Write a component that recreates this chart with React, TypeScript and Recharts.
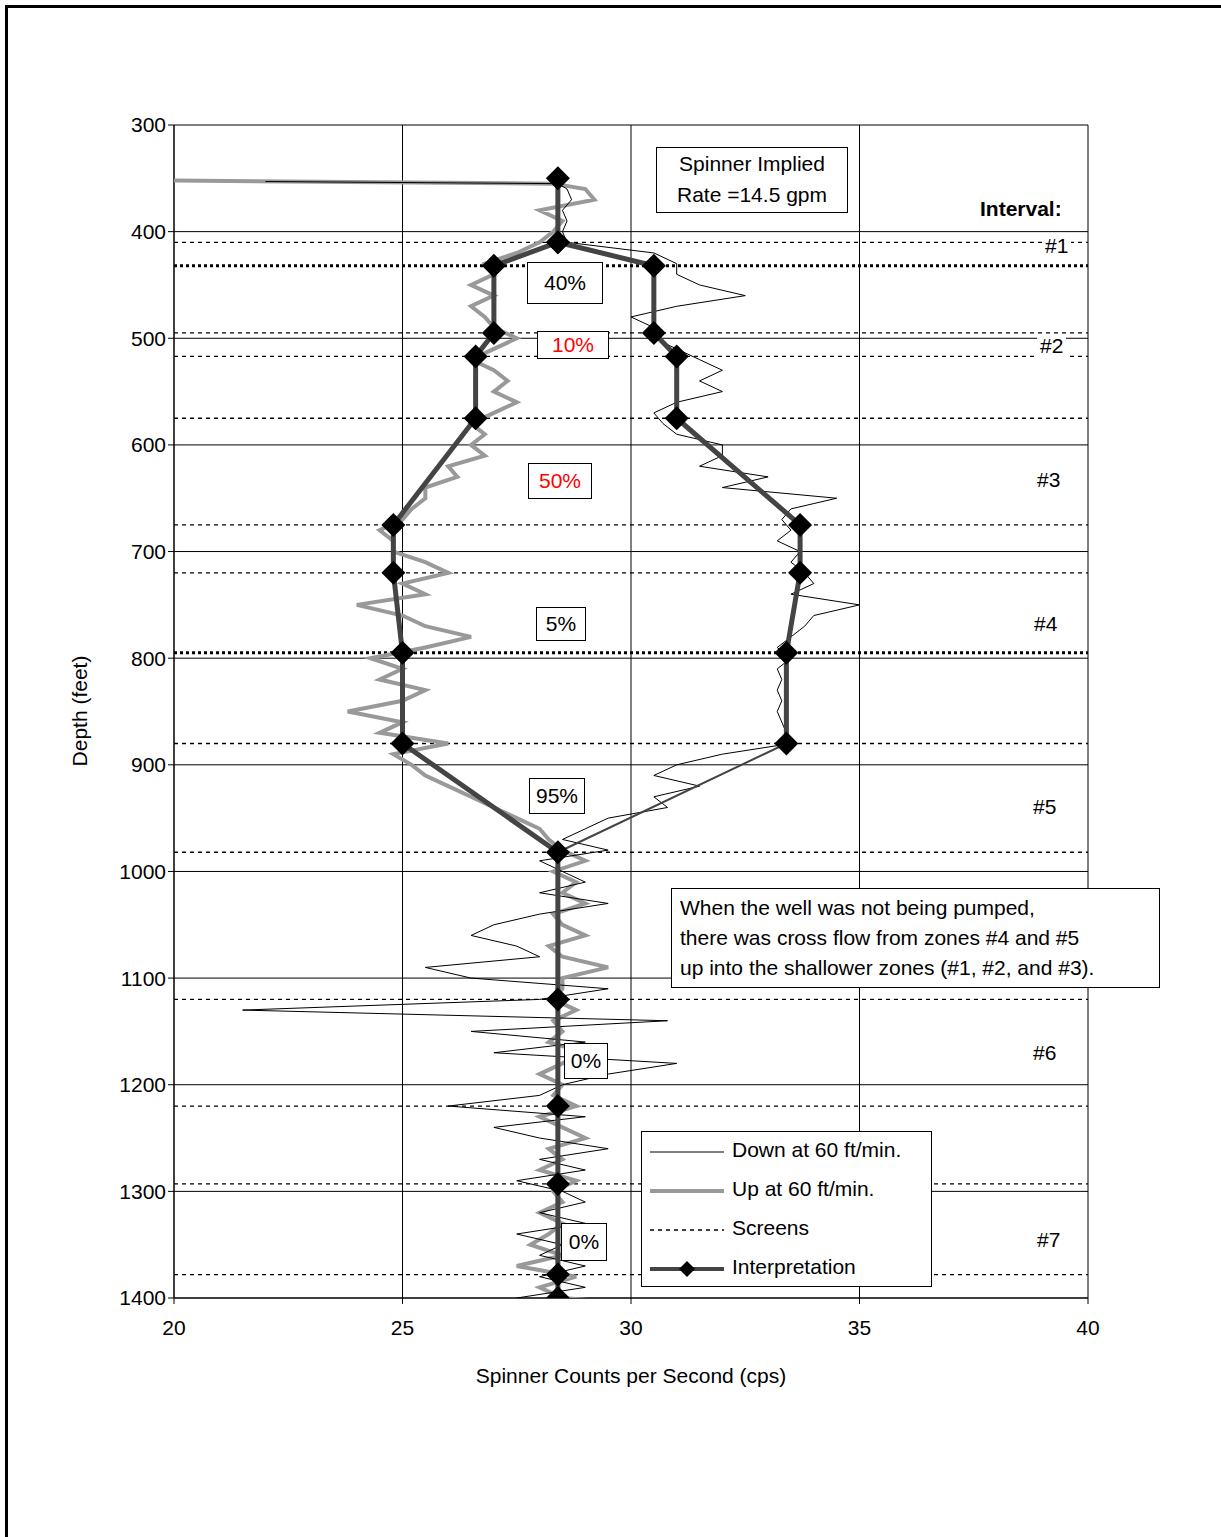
import React from "react";
import {
  ScatterChart,
  Scatter,
  XAxis,
  YAxis,
  CartesianGrid,
  ReferenceLine,
} from "recharts";

const depthsDown = [353, 355, 360, 370, 380, 390, 400, 410, 420, 430, 440, 450, 460, 470, 480, 490, 500, 510, 520, 530, 540, 550, 560, 570, 580, 590, 600, 610, 620, 630, 640, 650, 660, 670, 680, 690, 700, 710, 720, 730, 740, 750, 760, 770, 780, 790, 800, 810, 820, 830, 840, 850, 860, 870, 880, 890, 900, 910, 920, 930, 940, 950, 960, 970, 980, 990, 1000, 1010, 1020, 1030, 1040, 1050, 1060, 1070, 1080, 1090, 1100, 1110, 1120, 1130, 1140, 1150, 1160, 1170, 1180, 1190, 1200, 1210, 1220, 1230, 1240, 1250, 1260, 1270, 1280, 1290, 1300, 1310, 1320, 1330, 1340, 1350, 1360, 1370, 1380, 1390, 1400, 1405];
const downCps = [22, 28.4, 28.6, 28.7, 28.5, 28.6, 28.5, 28.6, 30.5, 31, 31, 31.5, 32.5, 31, 30, 30.5, 30.5, 31, 31.5, 32, 31.5, 32, 31, 30.5, 30.7, 31, 32, 32, 31.5, 33, 32, 34.5, 33.5, 33.3, 33.5, 33.2, 33.7, 33.5, 33.8, 34, 33.5, 35, 34, 33.8, 33.5, 33.2, 33.5, 33.2, 33.3, 33.2, 33.3, 33.2, 33.3, 33.4, 33.5, 32, 31, 30.5, 31.5, 30.5, 30.8, 29.5, 29, 28.5, 29.5, 28, 28.5, 29, 28, 29.5, 28, 27, 26.5, 27.5, 28, 25.5, 26.5, 29.5, 28, 21.5, 30.8, 26.5, 29, 27, 31, 29.5, 28.5, 28, 26, 29, 27, 28, 29.5, 28, 29, 27.5, 28.5, 29, 28, 29, 27.5, 28.5, 28, 29, 28, 29, 27.5, 28];

const depthsUp = [352, 355, 360, 370, 380, 390, 400, 410, 420, 430, 440, 450, 460, 470, 480, 490, 500, 510, 520, 530, 540, 550, 560, 570, 580, 590, 600, 610, 620, 630, 640, 650, 660, 670, 680, 690, 700, 710, 720, 730, 740, 750, 760, 770, 780, 790, 800, 810, 820, 830, 840, 850, 860, 870, 880, 890, 900, 910, 920, 930, 940, 950, 960, 970, 980, 990, 1000, 1010, 1020, 1030, 1040, 1050, 1060, 1070, 1080, 1090, 1100, 1110, 1120, 1130, 1140, 1150, 1160, 1170, 1180, 1190, 1200, 1210, 1220, 1230, 1240, 1250, 1260, 1270, 1280, 1290, 1300, 1310, 1320, 1330, 1340, 1350, 1360, 1370, 1380, 1390, 1400, 1405];
const upCps = [20, 28.3, 29, 29.2, 28, 28.5, 28.3, 28, 27.5, 26.8, 27, 26.5, 27, 26.5, 26.8, 27, 27.5, 27, 26.5, 27, 27.3, 27, 27.5, 27, 26.5, 26.8, 26.5, 26.8, 26, 26.2, 25.5, 25.5, 25.2, 25, 24.5, 24.8, 24.8, 25.5, 26, 25, 25.5, 24, 25, 25.5, 26.5, 25.5, 24.3, 25, 24.5, 25.5, 25, 23.8, 25, 24.5, 26, 24.8, 25.2, 25.5, 26, 26.5, 27, 27.5, 28, 28.2, 28.5, 29, 28.3, 28.8, 28.5, 29, 28.3, 28.5, 29, 28.2, 28.5, 29.5, 28.5, 28.5, 28.3, 28.8, 28.3, 28.5, 28.2, 29, 28.5, 28, 28.5, 28.3, 28.8, 28, 28.5, 29, 28.2, 28.5, 28, 28.8, 28.3, 28.5, 28, 28.5, 28.2, 27.8, 28.5, 27.5, 28.8, 28, 28.5, 30];

const interpDepthsL = [350, 410, 432, 495, 517, 575, 675, 720, 795, 880, 982, 1120, 1220, 1293, 1378, 1400];
const interpCpsL = [28.4, 28.4, 27, 27, 26.6, 26.6, 24.8, 24.8, 25, 25, 28.4, 28.4, 28.4, 28.4, 28.4, 28.4];
const interpDepthsR = [410, 432, 495, 517, 575, 675, 720, 795, 880];
const interpCpsR = [28.4, 30.5, 30.5, 31, 31, 33.7, 33.7, 33.4, 33.4];

const screens = [410, 432, 495, 517, 575, 675, 720, 795, 880, 982, 1120, 1220, 1293, 1378];
const thickScreens = [432, 795];

const xTicks = [20, 25, 30, 35, 40];
const yTicks = [300, 400, 500, 600, 700, 800, 900, 1000, 1100, 1200, 1300, 1400];

const zip = (ds: number[], vs: number[]) => ds.map((d, i) => ({ x: vs[i], y: d }));
const downData = zip(depthsDown, downCps);
const upData = zip(depthsUp, upCps);
const interpL = zip(interpDepthsL, interpCpsL);
const interpR = zip(interpDepthsR, interpCpsR);
const interpTail = [interpR[interpR.length - 1], interpL[10]];

const pctLabels = [
  { t: "40%", x: 527, y: 262, w: 76, h: 42, red: false },
  { t: "10%", x: 537, y: 331, w: 72, h: 28, red: true },
  { t: "50%", x: 528, y: 463, w: 64, h: 36, red: true },
  { t: "5%", x: 536, y: 607, w: 50, h: 34, red: false },
  { t: "95%", x: 529, y: 778, w: 56, h: 36, red: false },
  { t: "0%", x: 564, y: 1043, w: 44, h: 36, red: false },
  { t: "0%", x: 561, y: 1223, w: 46, h: 38, red: false },
];
const intervals = [
  { t: "#1", x: 1042, y: 234 },
  { t: "#2", x: 1037, y: 334 },
  { t: "#3", x: 1034, y: 468 },
  { t: "#4", x: 1031, y: 612 },
  { t: "#5", x: 1030, y: 795 },
  { t: "#6", x: 1030, y: 1041 },
  { t: "#7", x: 1034, y: 1228 },
];

const none = () => <g />;
const Diamond = (p: any) => (
  <polygon
    points={`${p.cx},${p.cy - 12} ${p.cx + 12},${p.cy} ${p.cx},${p.cy + 12} ${p.cx - 12},${p.cy}`}
    fill="#000"
  />
);

const font = "'Liberation Sans', Arial, sans-serif";
const abs = (x: number, y: number): React.CSSProperties => ({ position: "absolute", left: x, top: y });

export default function App() {
  return (
    <div style={{ position: "absolute", left: 0, top: 0, width: 1221, height: 1537, background: "#fff", fontFamily: font, overflow: "hidden" }}>
      <div style={{ position: "absolute", left: 5, top: 5, width: 1240, height: 1560, border: "3px solid #000" }} />
      <div style={abs(0, 0)}>
        <ScatterChart width={1221} height={1537} margin={{ top: 125, left: 104, right: 133, bottom: 199 }}>
          <CartesianGrid stroke="#000" strokeWidth={1} horizontalValues={yTicks} verticalValues={xTicks} />
          <XAxis type="number" dataKey="x" domain={[20, 40]} ticks={xTicks} height={40} stroke="#000" tickSize={6}
            tick={{ fill: "#000", fontSize: 21, dy: 14, fontFamily: font }} allowDataOverflow />
          <YAxis type="number" dataKey="y" domain={[300, 1400]} ticks={yTicks} reversed width={70} stroke="#000" tickSize={6}
            tick={{ fill: "#000", fontSize: 21, fontFamily: font }} allowDataOverflow />
          {screens.map((d) => (
            <ReferenceLine key={d} y={d} stroke="#000" strokeDasharray={thickScreens.includes(d) ? "3 3" : "4 4"}
              strokeWidth={thickScreens.includes(d) ? 3 : 1.3} ifOverflow="visible" segment={[{ x: 20, y: d }, { x: 40.4, y: d }]} />
          ))}
          <Scatter data={upData} line={{ stroke: "#999", strokeWidth: 4 }} shape={none} isAnimationActive={false} />
          <Scatter data={downData} line={{ stroke: "#000", strokeWidth: 1 }} shape={none} isAnimationActive={false} />
          <Scatter data={interpTail} line={{ stroke: "#444", strokeWidth: 2 }} shape={none} isAnimationActive={false} />
          <Scatter data={interpR} line={{ stroke: "#444", strokeWidth: 5 }} shape={Diamond} isAnimationActive={false} />
          <Scatter data={interpL} line={{ stroke: "#444", strokeWidth: 5 }} shape={Diamond} isAnimationActive={false} />
        </ScatterChart>
      </div>
      <div style={{ ...abs(80, 711), transform: "translate(-50%,-50%) rotate(-90deg)", fontSize: 21, whiteSpace: "nowrap" }}>Depth (feet)</div>
      <div style={{ ...abs(631, 1376), transform: "translate(-50%,-50%)", fontSize: 21, whiteSpace: "nowrap" }}>Spinner Counts per Second (cps)</div>
      <div style={{ ...abs(656, 147), width: 192, height: 66, border: "1px solid #000", background: "#fff", fontSize: 21, textAlign: "center", lineHeight: "31px", boxSizing: "border-box" }}>
        Spinner Implied<br />Rate =14.5 gpm
      </div>
      <div style={{ ...abs(978, 197), fontSize: 21, fontWeight: "bold", background: "#fff", padding: "0 8px 0 2px" }}>Interval:</div>
      {intervals.map((l) => (
        <div key={l.t} style={{ ...abs(l.x, l.y), fontSize: 21, background: "#fff", padding: "0 3px" }}>{l.t}</div>
      ))}
      {pctLabels.map((l, i) => (
        <div key={i} style={{ ...abs(l.x, l.y), width: l.w, height: l.h, border: "1px solid #000", background: "#fff", boxSizing: "border-box",
          display: "flex", alignItems: "center", justifyContent: "center", fontSize: 21, color: l.red ? "#f00" : "#000" }}>{l.t}</div>
      ))}
      <div style={{ ...abs(671, 888), width: 489, height: 100, border: "1px solid #000", background: "#fff", boxSizing: "border-box", fontSize: 21, lineHeight: "30px", padding: "4px 8px" }}>
        When the well was not being pumped,<br />there was cross flow from zones #4 and #5<br />up into the shallower zones (#1, #2, and #3).
      </div>
      <div style={{ ...abs(641, 1131), width: 291, height: 156, border: "1px solid #000", background: "#fff", boxSizing: "border-box", fontSize: 21 }}>
        <svg width={90} height={156} style={{ position: "absolute", left: 0, top: 0 }}>
          <line x1={8} x2={82} y1={20} y2={20} stroke="#000" strokeWidth={1} />
          <line x1={8} x2={82} y1={59} y2={59} stroke="#999" strokeWidth={4} />
          <line x1={8} x2={82} y1={98} y2={98} stroke="#000" strokeWidth={1.3} strokeDasharray="4 4" />
          <line x1={8} x2={82} y1={137} y2={137} stroke="#444" strokeWidth={4} />
          <polygon points="45,129 53,137 45,145 37,137" fill="#000" />
        </svg>
        {["Down at 60 ft/min.", "Up at 60 ft/min.", "Screens", "Interpretation"].map((t, i) => (
          <div key={t} style={{ ...abs(90, 6 + i * 39), whiteSpace: "nowrap" }}>{t}</div>
        ))}
      </div>
    </div>
  );
}
